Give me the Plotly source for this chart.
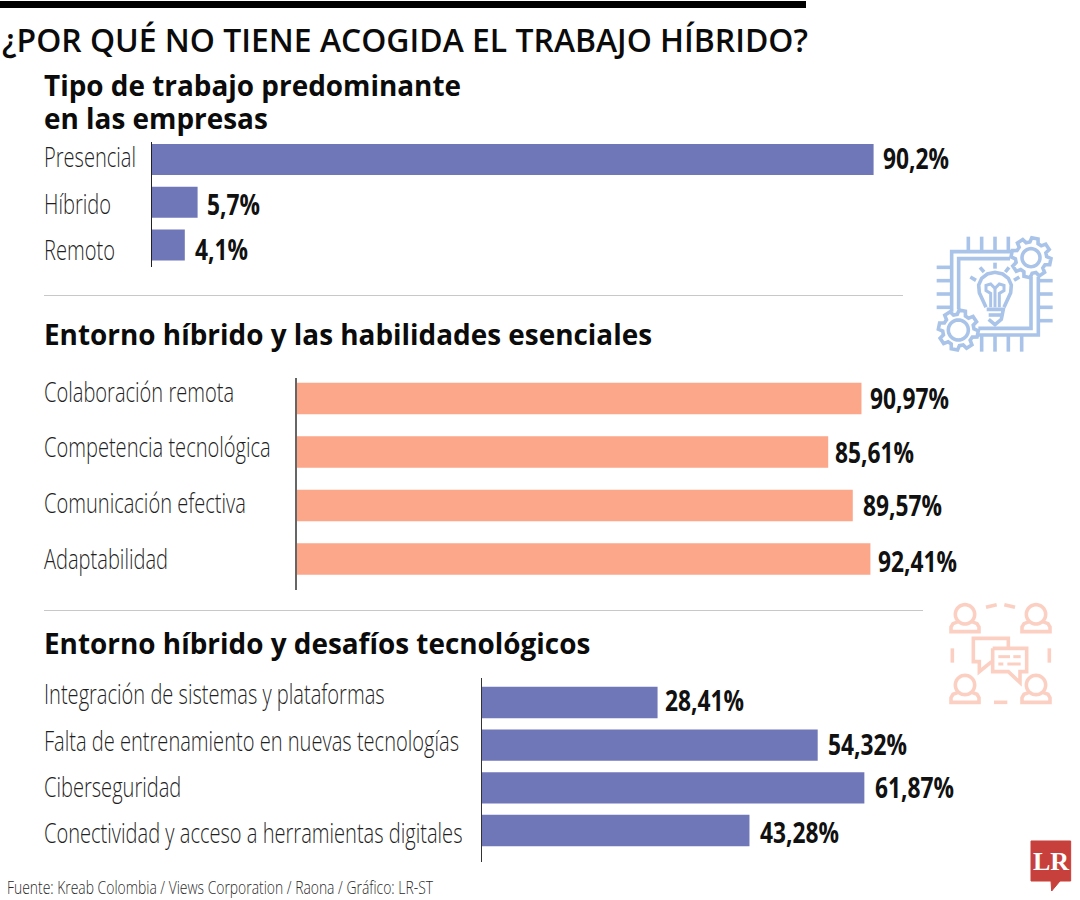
import json
import math
import plotly.graph_objects as go

TITLE = "¿POR QUÉ NO TIENE ACOGIDA EL TRABAJO HÍBRIDO?"
SOURCE = "Fuente: Kreab Colombia / Views Corporation / Raona / Gráfico: LR-ST"

work_heading = "Tipo de trabajo predominante<br>en las empresas"
work_types = ["Presencial", "Híbrido", "Remoto"]
work_values = [90.2, 5.7, 4.1]
work_labels = ["90,2%", "5,7%", "4,1%"]

skills_heading = "Entorno híbrido y las habilidades esenciales"
skills = ["Colaboración remota", "Competencia tecnológica", "Comunicación efectiva", "Adaptabilidad"]
skills_values = [90.97, 85.61, 89.57, 92.41]
skills_labels = ["90,97%", "85,61%", "89,57%", "92,41%"]

tech_heading = "Entorno híbrido y desafíos tecnológicos"
challenges = ["Integración de sistemas y plataformas", "Falta de entrenamiento en nuevas tecnologías",
              "Ciberseguridad", "Conectividad y acceso a herramientas digitales"]
challenges_values = [28.41, 54.32, 61.87, 43.28]
challenges_labels = ["28,41%", "54,32%", "61,87%", "43,28%"]

W, H = 1080, 900
PURPLE, SALMON = "#7077b8", "#fca68a"
FONT = "Open Sans"
BLUE_ICON, PINK_ICON = "#a9c4e8", "#fbd0c2"
LABEL_SIZE, VALUE_SIZE, SOURCE_SIZE, TITLE_SIZE, HEAD_SIZE = 27, 28, 19, 33, 27.9


def fx(px):
    return px / W


def fy(py):
    return 1 - py / H


panels = [
    dict(cats=work_types, vals=work_values, labels=work_labels, color=PURPLE, left=152, px_per=8.0,
         top=142, bottom=267, c0=159.5, pitch=42.75, gap=0.275, line="#222222", lw=1,
         lab_dy=[3.5, -1, -4.5], val_dy=[1.5, -1.5, -4], val_dx=[7, 7, 8]),
    dict(cats=skills, vals=skills_values, labels=skills_labels, color=SALMON, left=297, px_per=6.205,
         top=378, bottom=590, c0=398.5, pitch=53.5, gap=0.41, line="#666666", lw=1.5,
         lab_dy=[7, 5, 2.5, 1], val_dy=[0, 0, 0.5, -2], val_dx=[7, 5, 8, 6]),
    dict(cats=challenges, vals=challenges_values, labels=challenges_labels, color=PURPLE, left=482, px_per=6.18,
         top=678, bottom=862, c0=702.5, pitch=42.67, gap=0.266, line="#333333", lw=1.2,
         lab_dy=[9, 4.5, 1, -2], val_dy=[3, 1, 1, -1], val_dx=[5, 8, 9, 9]),
]

fig = go.Figure()
annotations, shapes = [], []
layout = {}
RIGHT = 1060

for i, p in enumerate(panels, start=1):
    sfx = "" if i == 1 else str(i)
    fig.add_trace(go.Bar(
        orientation="h", x=p["vals"], y=p["cats"], width=1 - p["gap"],
        marker=dict(color=p["color"], line=dict(width=0)),
        xaxis=f"x{sfx}", yaxis=f"y{sfx}", showlegend=False, hoverinfo="x+y",
    ))
    layout[f"xaxis{sfx}"] = dict(domain=[fx(p["left"]), fx(RIGHT)],
                                 range=[0, (RIGHT - p["left"]) / p["px_per"]],
                                 visible=False, anchor=f"y{sfx}", fixedrange=True)
    layout[f"yaxis{sfx}"] = dict(domain=[fy(p["bottom"]), fy(p["top"])], type="category",
                                 categoryorder="array", categoryarray=p["cats"],
                                 range=[(p["bottom"] - p["c0"]) / p["pitch"], (p["top"] - p["c0"]) / p["pitch"]],
                                 showline=True, linecolor=p["line"], linewidth=p["lw"], showgrid=False,
                                 zeroline=False, ticks="", showticklabels=False, anchor=f"x{sfx}", fixedrange=True)
    for j, cat in enumerate(p["cats"]):
        annotations.append(dict(text=cat, xref="paper", x=fx(42), yref=f"y{sfx}", y=cat, yshift=p["lab_dy"][j],
                                xanchor="left", yanchor="middle", align="left", showarrow=False,
                                font=dict(family=FONT, size=LABEL_SIZE, color="#1f1f1f", weight=300)))
        annotations.append(dict(text=p["labels"][j], xref=f"x{sfx}", x=p["vals"][j], xshift=p["val_dx"][j],
                                yref=f"y{sfx}", y=cat, yshift=p["val_dy"][j],
                                xanchor="left", yanchor="middle", align="left", showarrow=False,
                                font=dict(family=FONT, size=VALUE_SIZE, color="#111111", weight=700)))


def text(s, x, y, size, weight="normal", color="#111111"):
    annotations.append(dict(text=s, xref="paper", yref="paper", x=fx(x), y=fy(y), xanchor="left", yanchor="middle",
                            align="left", showarrow=False,
                            font=dict(family=FONT, size=size, color=color, weight=weight)))


text(TITLE, 0, 40, TITLE_SIZE, 600, "#0b0b0b")
text(work_heading, 42, 103, HEAD_SIZE, 700, "#0b0b0b")
text(skills_heading, 42, 334, HEAD_SIZE, 700, "#0b0b0b")
text(tech_heading, 42, 643, HEAD_SIZE, 700, "#0b0b0b")
text(SOURCE, 5, 887, SOURCE_SIZE, 300, "#2a2a2a")

shapes.append(dict(type="rect", xref="paper", yref="paper", x0=0, x1=fx(806), y0=fy(8), y1=fy(1),
                   fillcolor="#000000", line_width=0))
for y_, x_end in [(295.5, 903), (610.5, 923)]:
    shapes.append(dict(type="line", xref="paper", yref="paper", x0=fx(44), x1=fx(x_end), y0=fy(y_), y1=fy(y_),
                       line=dict(color="#c8c8c8", width=1.2)))


def path(points, color, width=3.6, fill=None, close=False, ox=0, oy=0):
    d = "M " + " L ".join(f"{fx(ox + a / 3):.5f},{fy(oy + b / 3):.5f}" for a, b in points)
    if close:
        d += " Z"
    shapes.append(dict(type="path", path=d, xref="paper", yref="paper",
                       line=dict(color=color, width=width), fillcolor=fill or "rgba(0,0,0,0)", layer="above"))


def circle(cx, cy, r, color, width=3.6, fill=None, ox=0, oy=0):
    pts = [(cx + r * math.cos(t * math.pi / 20), cy + r * math.sin(t * math.pi / 20)) for t in range(40)]
    path(pts, color, width, fill, True, ox, oy)


def gear(cx, cy, ro, ri, hole, color, ox, oy):
    pts = []
    teeth = 8
    for k in range(teeth):
        base = 2 * math.pi * k / teeth + 0.2
        for da, r in [(-0.27, ri), (-0.16, ro), (0.16, ro), (0.27, ri)]:
            pts.append((cx + r * math.cos(base + da), cy + r * math.sin(base + da)))
    path(pts, color, 3.6, "#ffffff", True, ox, oy)
    circle(cx, cy, hole, color, 3.6, None, ox, oy)


o1 = dict(ox=900, oy=220)
for x_ in (205, 245, 285, 325):
    path([(x_, 50), (x_, 95)], BLUE_ICON, **o1)
for y_ in (142, 182, 222, 262):
    path([(110, y_), (155, y_)], BLUE_ICON, **o1)
for y_ in (182, 222, 262, 302):
    path([(415, y_), (458, y_)], BLUE_ICON, **o1)
for x_ in (245, 285, 325, 365):
    path([(x_, 345), (x_, 395)], BLUE_ICON, **o1)
path([(335, 95), (155, 95), (155, 275)], BLUE_ICON, **o1)
path([(330, 116), (176, 116), (176, 268)], BLUE_ICON, **o1)
path([(415, 170), (415, 345), (235, 345)], BLUE_ICON, **o1)
path([(393, 170), (393, 325), (235, 325)], BLUE_ICON, **o1)
gear(393, 113, 60, 47, 27, BLUE_ICON, **o1)
gear(175, 330, 60, 47, 30, BLUE_ICON, **o1)
bulb = [(258, 262), (248, 240), (238, 218), (236, 195), (245, 175), (262, 162), (285, 157), (308, 162), (325, 175),
        (334, 195), (332, 218), (322, 240), (312, 262)]
path(bulb, BLUE_ICON, **o1)
path([(260, 268), (310, 268), (304, 298), (285, 314), (266, 298)], BLUE_ICON, **o1)
path([(266, 285), (304, 285)], BLUE_ICON, **o1)
path([(272, 262), (272, 220), (258, 212), (258, 196), (272, 192), (285, 205), (298, 192), (312, 196), (312, 212),
      (298, 220), (298, 262)], BLUE_ICON, 3, **o1)
path([(285, 205), (285, 262)], BLUE_ICON, 3, **o1)
for a, b in [((285, 128), (285, 146)), ((240, 142), (252, 156)), ((327, 142), (316, 156)), ((211, 171), (228, 181)),
             ((358, 171), (342, 181))]:
    path([a, b], BLUE_ICON, **o1)

o2 = dict(ox=920, oy=590)
for cx_, cy_ in [(135, 73), (348, 73), (135, 285), (348, 285)]:
    circle(cx_, cy_, 29, PINK_ICON, 3.6, **o2)
    path([(cx_ - 20, cy_ + 22), (cx_ - 36, cy_ + 28), (cx_ - 42, cy_ + 38), (cx_ - 42, cy_ + 52), (cx_ + 42, cy_ + 52),
          (cx_ + 42, cy_ + 38), (cx_ + 36, cy_ + 28), (cx_ + 20, cy_ + 22)], PINK_ICON, 3.6, **o2)
for seg in [[(198, 52), (230, 44)], [(253, 44), (285, 52)], [(97, 175), (97, 218)], [(388, 175), (388, 218)],
            [(222, 337), (262, 337)]]:
    path(seg, PINK_ICON, 3.6, **o2)
path([(215, 215), (178, 245), (178, 215), (160, 215), (160, 145), (265, 145), (265, 175)], PINK_ICON, 3.6, **o2)
path([(218, 175), (320, 175), (320, 245), (300, 245), (300, 278), (265, 245), (218, 245), (218, 175)], PINK_ICON, 3.6, **o2)
for seg in [[(235, 200), (270, 200)], [(280, 200), (302, 200)], [(235, 222), (250, 222)], [(262, 222), (302, 222)]]:
    path(seg, PINK_ICON, 3, **o2)

path([(153, 63), (272, 63), (272, 183), (240, 183), (215, 213), (213, 183), (153, 183)], "#c7403b", 1, "#c7403b", True,
     980, 820)
annotations.append(dict(text="LR", xref="paper", yref="paper", x=fx(1051), y=fy(861), xanchor="center",
                        yanchor="middle", showarrow=False,
                        font=dict(family="Liberation Serif", size=26, color="#ffffff", weight="bold")))

fig.update_layout(width=W, height=H, margin=dict(l=0, r=0, t=0, b=0), paper_bgcolor="#ffffff", plot_bgcolor="#ffffff",
                  annotations=annotations, shapes=shapes, showlegend=False, **layout)

# Condensed type is not installed: squeeze real text to the reference's measured widths, per font size.
fits = {
    str(LABEL_SIZE): [challenges[1], 415],
    str(VALUE_SIZE): [skills_labels[0], 79],
    str(SOURCE_SIZE): [SOURCE, 426],
    str(TITLE_SIZE): [TITLE, 806],
}
squeeze = """
document.body.style.margin='0';document.documentElement.style.overflow='hidden';
(function(){
 var fits=%s;
 function run(){
  var els=[].slice.call(document.querySelectorAll('.annotation-text'));
  els.forEach(function(e){e.removeAttribute('textLength');e.removeAttribute('lengthAdjust');
    var lines=e.querySelectorAll('tspan.line');
    if(lines.length>1){lines[1].setAttribute('dy','33px');}});
  var factors={};
  els.forEach(function(e){var s=String(parseFloat(e.style.fontSize));
    if(fits[s]&&e.textContent===fits[s][0]){factors[s]=fits[s][1]/e.getComputedTextLength();}});
  els.forEach(function(e){var s=String(parseFloat(e.style.fontSize));
    if(factors[s]){var w=e.getComputedTextLength();
      e.setAttribute('lengthAdjust','spacingAndGlyphs');e.setAttribute('textLength',w*factors[s]);}});
 }
 run();setTimeout(run,150);
})();
""" % json.dumps(fits)

fig.write_html("out.html", config={"displayModeBar": False}, post_script=squeeze)
